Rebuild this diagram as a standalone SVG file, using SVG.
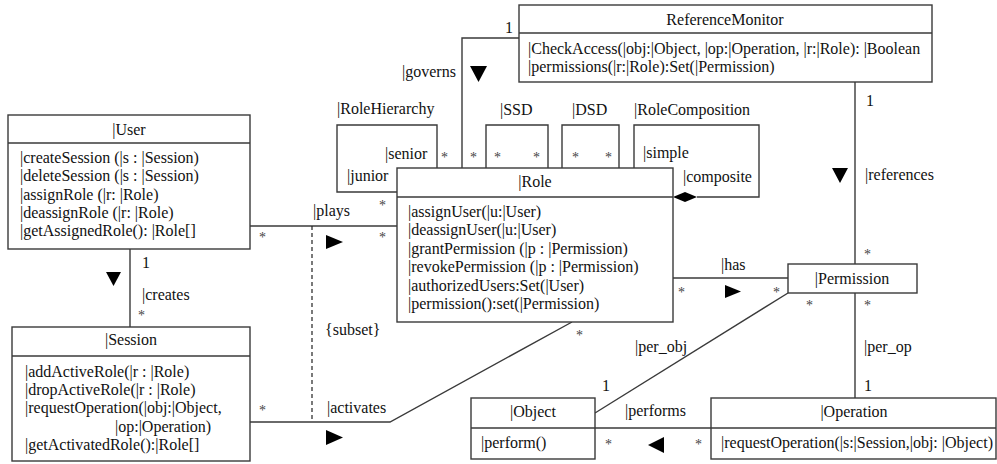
<svg xmlns="http://www.w3.org/2000/svg" width="997" height="464" viewBox="0 0 997 464">
<style>
text { font-family: "Liberation Serif", "Times New Roman", serif; font-size: 16px; fill: #111; }
.t { text-anchor: middle; }
.box { fill: #fff; stroke: #3a3a3a; stroke-width: 1.4; }
.ln { fill: none; stroke: #3a3a3a; stroke-width: 1.4; }
.dash { fill: none; stroke: #222; stroke-width: 1.2; stroke-dasharray: 4 3; }
.arr { fill: #000; stroke: none; }
.st { font-size: 14px; fill: #444; }
</style>
<rect width="997" height="464" fill="#fff"/>

<g id="connectors">
  <!-- plays -->
  <line class="ln" x1="250" y1="226" x2="397" y2="226"/>
  <line class="dash" x1="312" y1="226" x2="312" y2="422"/>
  <!-- creates -->
  <line class="ln" x1="130" y1="249" x2="130" y2="327"/>
  <!-- activates -->
  <polyline class="ln" points="250,422 390,422 572,322"/>
  <!-- governs -->
  <polyline class="ln" points="462,168 462,38 519,38"/>
  <!-- references -->
  <line class="ln" x1="855" y1="82" x2="855" y2="264"/>
  <!-- has -->
  <line class="ln" x1="673" y1="278" x2="788" y2="278"/>
  <!-- per_obj -->
  <line class="ln" x1="788" y1="293" x2="595" y2="413"/>
  <!-- per_op -->
  <line class="ln" x1="855" y1="293" x2="855" y2="398"/>
  <!-- performs -->
  <line class="ln" x1="595" y1="428" x2="711" y2="428"/>
  <!-- RoleHierarchy -->
  <polyline class="ln" points="437,168 437,125 337,125 337,192 397,192"/>
  <!-- SSD -->
  <polyline class="ln" points="486,168 486,125 548,125 548,168"/>
  <!-- DSD -->
  <polyline class="ln" points="562,168 562,125 619,125 619,168"/>
  <!-- RoleComposition -->
  <polyline class="ln" points="634,168 634,125 759,125 759,197 697,197"/>
  <polygon class="arr" points="673,197 685,192 697,197 685,202"/>

  <!-- direction triangles -->
  <polygon class="arr" points="470,66 487,66 478.5,82"/>
  <polygon class="arr" points="106,272 121,272 113.5,286"/>
  <polygon class="arr" points="832,168 848,168 840,183"/>
  <polygon class="arr" points="326,235 343,242 326,249"/>
  <polygon class="arr" points="326,430 343,437.5 326,445"/>
  <polygon class="arr" points="725,285 741,291.5 725,298"/>
  <polygon class="arr" points="664,437 648,445 664,453"/>

  <!-- labels -->
  <text x="505" y="33">1</text>
  <text x="402" y="77">|governs</text>
  <text x="337" y="114">|RoleHierarchy</text>
  <text x="500" y="115">|SSD</text>
  <text x="572" y="115">|DSD</text>
  <text x="634" y="115">|RoleComposition</text>
  <text x="385" y="159">|senior</text>
  <text x="347" y="181">|junior</text>
  <text x="643" y="158">|simple</text>
  <text x="683" y="182">|composite</text>
  <text class="st" x="441" y="162">*</text>
  <text class="st" x="470" y="162">*</text>
  <text class="st" x="494" y="162">*</text>
  <text class="st" x="533" y="162">*</text>
  <text class="st" x="572" y="162">*</text>
  <text class="st" x="605" y="162">*</text>
  <text class="st" x="379" y="210">*</text>
  <text x="313" y="216">|plays</text>
  <text class="st" x="259" y="242">*</text>
  <text class="st" x="379" y="242">*</text>
  <text x="142" y="268">1</text>
  <text x="142" y="300">|creates</text>
  <text class="st" x="138" y="320">*</text>
  <text x="325" y="335">{subset}</text>
  <text class="st" x="259" y="415">*</text>
  <text x="327" y="413">|activates</text>
  <text class="st" x="576" y="340">*</text>
  <text x="866" y="106">1</text>
  <text x="865" y="180">|references</text>
  <text class="st" x="864" y="259">*</text>
  <text x="721" y="270">|has</text>
  <text class="st" x="678" y="297">*</text>
  <text class="st" x="773" y="297">*</text>
  <text class="st" x="806" y="310">*</text>
  <text class="st" x="864" y="310">*</text>
  <text x="635" y="352">|per_obj</text>
  <text x="864" y="352">|per_op</text>
  <text x="602" y="391">1</text>
  <text x="864" y="391">1</text>
  <text x="625" y="416">|performs</text>
  <text class="st" x="605" y="449">*</text>
  <text class="st" x="695" y="449">*</text>
</g>

<g id="ReferenceMonitor">
  <rect class="box" x="519" y="5" width="413" height="77"/>
  <line class="ln" x1="519" y1="33" x2="932" y2="33"/>
  <text class="t" x="725" y="25">ReferenceMonitor</text>
  <text x="528" y="54">|CheckAccess(|obj:|Object, |op:|Operation, |r:|Role): |Boolean</text>
  <text x="528" y="72.3">|permissions(|r:|Role):Set(|Permission)</text>
</g>

<g id="User">
  <rect class="box" x="8" y="115" width="242" height="134"/>
  <line class="ln" x1="8" y1="143" x2="250" y2="143"/>
  <text class="t" x="129" y="135">|User</text>
  <text x="20" y="163">|createSession (|s : |Session)</text>
  <text x="20" y="181.3">|deleteSession (|s : |Session)</text>
  <text x="20" y="199.6">|assignRole (|r: |Role)</text>
  <text x="20" y="218">|deassignRole (|r: |Role)</text>
  <text x="20" y="236.3">|getAssignedRole(): |Role[]</text>
</g>

<g id="Session">
  <rect class="box" x="12" y="327" width="238" height="134"/>
  <line class="ln" x1="12" y1="356" x2="250" y2="356"/>
  <text class="t" x="131" y="345">|Session</text>
  <text x="25" y="376.5">|addActiveRole(|r : |Role)</text>
  <text x="25" y="394.8">|dropActiveRole(|r : |Role)</text>
  <text x="25" y="413">|requestOperation(|obj:|Object,</text>
  <text x="115" y="431.5">|op:|Operation)</text>
  <text x="25" y="449.8">|getActivatedRole():|Role[]</text>
</g>

<g id="Role">
  <rect class="box" x="397" y="168" width="276" height="154"/>
  <line class="ln" x1="397" y1="197" x2="673" y2="197"/>
  <text class="t" x="535" y="187">|Role</text>
  <text x="408" y="216.5">|assignUser(|u:|User)</text>
  <text x="408" y="235">|deassignUser(|u:|User)</text>
  <text x="408" y="253.5">|grantPermission (|p : |Permission)</text>
  <text x="408" y="272">|revokePermission (|p : |Permission)</text>
  <text x="408" y="290.5">|authorizedUsers:Set(|User)</text>
  <text x="408" y="309">|permission():set(|Permission)</text>
</g>

<g id="Permission">
  <rect class="box" x="788" y="264" width="129" height="29"/>
  <text class="t" x="852" y="284">|Permission</text>
</g>

<g id="Object">
  <rect class="box" x="471" y="398" width="124" height="61"/>
  <line class="ln" x1="471" y1="428" x2="595" y2="428"/>
  <text class="t" x="533" y="417">|Object</text>
  <text x="481" y="448">|perform()</text>
</g>

<g id="Operation">
  <rect class="box" x="711" y="398" width="285" height="61"/>
  <line class="ln" x1="711" y1="428" x2="996" y2="428"/>
  <text class="t" x="854" y="417">|Operation</text>
  <text x="721" y="448">|requestOperation(|s:|Session,|obj: |Object)</text>
</g>
</svg>
